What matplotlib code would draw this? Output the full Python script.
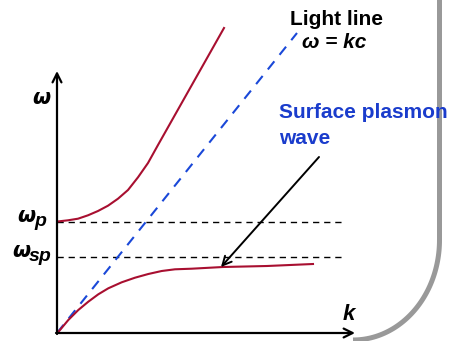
import numpy as np
import matplotlib
matplotlib.use("Agg")
import matplotlib.pyplot as plt

# diagram units: k to the right, omega up, origin where the axes cross
upper_k = [0.5, 11, 21, 31, 41, 51, 61, 71, 81, 91, 101, 123, 145, 167]
upper_w = [111.5, 112.7, 114.3, 117.7, 122, 127.3, 134.3, 143, 155.7, 170,
           188, 227, 266, 305]

lower_k = [0.5, 11.3, 21.3, 31.3, 41.3, 51.3, 64.7, 78, 91.3, 104.7, 118,
           134.7, 166, 210, 256]
lower_w = [0, 13, 23, 31.3, 38.7, 44.7, 50.7, 55.3, 59, 62, 63.7, 64.3, 66,
           67, 69]

light_k = [0, 240]
light_w = [0, 300]

w_p = 111
w_sp = 76
dash_end = 286

red = '#a80f30'
blue = '#1a48d8'
txt_blue = '#1a3ccc'
font = 'Liberation Sans'
greek = 'DejaVu Sans'

fig = plt.figure(figsize=(4.53, 3.41), dpi=100)
ax = fig.add_axes([0, 0, 1, 1])
ax.set_xlim(-57, 396)
ax.set_ylim(-8, 333)
ax.axis('off')

# axes with open arrow heads
ax.annotate('', xy=(0, 262), xytext=(0, -1),
            arrowprops=dict(arrowstyle='->', lw=1.6, color='black',
                            mutation_scale=16, shrinkA=0, shrinkB=0))
ax.annotate('', xy=(298, 0), xytext=(-1, 0),
            arrowprops=dict(arrowstyle='->', lw=1.6, color='black',
                            mutation_scale=16, shrinkA=0, shrinkB=0))

ax.plot([0, dash_end], [w_p, w_p], color='black', lw=1.0, ls=(0, (4.5, 3.5)))
ax.plot([0, dash_end], [w_sp, w_sp], color='black', lw=1.0, ls=(0, (4.5, 3.5)))

ax.plot(light_k, light_w, color=blue, lw=1.5, ls=(0, (5, 4)))
ax.plot(upper_k, upper_w, color=red, lw=1.5, solid_joinstyle='round')
ax.plot(lower_k, lower_w, color=red, lw=1.5, solid_joinstyle='round')

ax.annotate('', xy=(164, 66), xytext=(262, 176),
            arrowprops=dict(arrowstyle='->', lw=1.4, color='black',
                            mutation_scale=16, shrinkA=0, shrinkB=0))

# labels
ax.text(233, 308, 'Light line', fontsize=15, fontweight='bold', family=font,
        ha='left', va='baseline')
ax.text(245, 285, 'ω = kc', fontsize=15, fontweight='bold', style='italic',
        family=font, ha='left', va='baseline')
ax.text(222, 215, 'Surface plasmon', fontsize=15, fontweight='bold',
        family=font, color=txt_blue, ha='left', va='baseline')
ax.text(222, 189, 'wave', fontsize=15, fontweight='bold', family=font,
        color=txt_blue, ha='left', va='baseline')

ax.text(-25, 229, 'ω', fontsize=15, fontweight='bold', style='italic',
        family=greek, ha='left', va='baseline')
ax.text(-40, 111, 'ω', fontsize=15, fontweight='bold', style='italic',
        family=greek, ha='left', va='baseline')
ax.text(-23, 107, 'p', fontsize=14, fontweight='bold', style='italic',
        family=font, ha='left', va='baseline')
ax.text(-45, 76, 'ω', fontsize=15, fontweight='bold', style='italic',
        family=greek, ha='left', va='baseline')
ax.text(-28, 72, 'sp', fontsize=14, fontweight='bold', style='italic',
        family=font, ha='left', va='baseline')
ax.text(286, 13, 'k', fontsize=16, fontweight='bold', style='italic',
        family=font, ha='left', va='baseline')

# slide frame corner on the right
t = np.linspace(0, np.pi / 2, 60)
frame_k = np.concatenate([[382.5], 296 + 86.5 * np.cos(t)])
frame_w = np.concatenate([[340], 93 - 100 * np.sin(t)])
ax.plot(frame_k, frame_w, color='#999999', lw=3.6, solid_capstyle='butt',
        clip_on=False)

fig.savefig('out.png', dpi=100)
